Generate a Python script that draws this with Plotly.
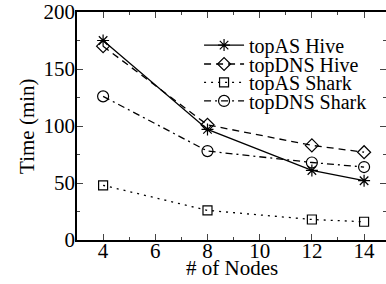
import plotly.graph_objects as go

nodes = [4, 8, 12, 14]
topas_hive = [175, 97, 61, 52]
topdns_hive = [170, 101, 83, 77]
topas_shark = [48, 26, 18, 16]
topdns_shark = [126, 78, 68, 64]

x_ticks = [4, 6, 8, 10, 12, 14]
y_ticks = [0, 50, 100, 150, 200]

FONT = "Liberation Serif"

series = [
    ("topAS Hive", topas_hive, "solid", "asterisk-open", 10),
    ("topDNS Hive", topdns_hive, "7px,5px", "diamond-open", 10),
    ("topAS Shark", topas_shark, "2px,5px", "square-open", 9),
    ("topDNS Shark", topdns_shark, "7px,4px,2px,4px", "circle-open", 11),
]
legend_ids = ["legend", "legend2", "legend3", "legend4"]
legend_y = [0.855, 0.772, 0.691, 0.610]

fig = go.Figure()
for (name, vals, dash, sym, sz), lid in zip(series, legend_ids):
    fig.add_trace(go.Scatter(
        x=nodes, y=vals, name=name, mode="lines+markers", legend=lid,
        line=dict(color="black", width=1.3, dash=dash),
        marker=dict(symbol=sym, size=sz, color="black", line=dict(width=1.2, color="black")),
    ))

# invisible trace on secondary y axis for right-side ticks
fig.add_trace(go.Scatter(x=[nodes[0]], y=[0], yaxis="y2", showlegend=False,
                         mode="markers", marker=dict(opacity=0), hoverinfo="skip"))

leg_common = dict(xanchor="left", yanchor="middle", bgcolor="rgba(0,0,0,0)",
                  font=dict(size=20, family=FONT, color="black"), itemwidth=40)
legends = {lid: dict(x=0.395, y=ly, **leg_common) for lid, ly in zip(legend_ids, legend_y)}

fig.update_layout(
    width=386, height=284,
    margin=dict(l=77, r=0, t=12, b=44),
    plot_bgcolor="white", paper_bgcolor="white",
    font=dict(family=FONT, size=20, color="black"),
    showlegend=True,
    **legends,
    xaxis=dict(range=[3, 14.84], tickvals=x_ticks, ticks="inside", ticklen=6,
               showline=True, linecolor="black", linewidth=1.5, mirror="ticks",
               showgrid=False, zeroline=False, automargin=False,
               ticklabelstandoff=-9,
               tickfont=dict(size=21, family=FONT, color="black"),
               minor=dict(dtick=1, tick0=0, ticks="inside", ticklen=3, showgrid=False)),
    yaxis=dict(range=[0, 200], tickvals=y_ticks, ticks="inside", ticklen=6,
               showline=True, linecolor="black", linewidth=1.5, mirror=False,
               showgrid=False, zeroline=False, automargin=False,
               ticklabelstandoff=-4,
               tickfont=dict(size=21, family=FONT, color="black"),
               minor=dict(dtick=25, tick0=0, ticks="inside", ticklen=3, showgrid=False)),
    yaxis2=dict(range=[0, 200], overlaying="y", side="right", tickvals=y_ticks,
                ticks="inside", ticklen=6, showticklabels=False, showline=False,
                showgrid=False, zeroline=False, automargin=False,
                minor=dict(dtick=25, tick0=0, ticks="inside", ticklen=3, showgrid=False)),
    annotations=[
        dict(text="# of Nodes", xref="paper", yref="paper", x=0.5, y=-0.123,
             xanchor="center", yanchor="middle", showarrow=False,
             font=dict(size=21, family=FONT, color="black")),
        dict(text="Time (min)", xref="paper", yref="paper", x=-0.162, y=0.5,
             xanchor="center", yanchor="middle", showarrow=False, textangle=-90,
             font=dict(size=21, family=FONT, color="black")),
    ],
)

fig.write_html("out.html", post_script="document.body.style.margin='0';",
               config={"displayModeBar": False})
